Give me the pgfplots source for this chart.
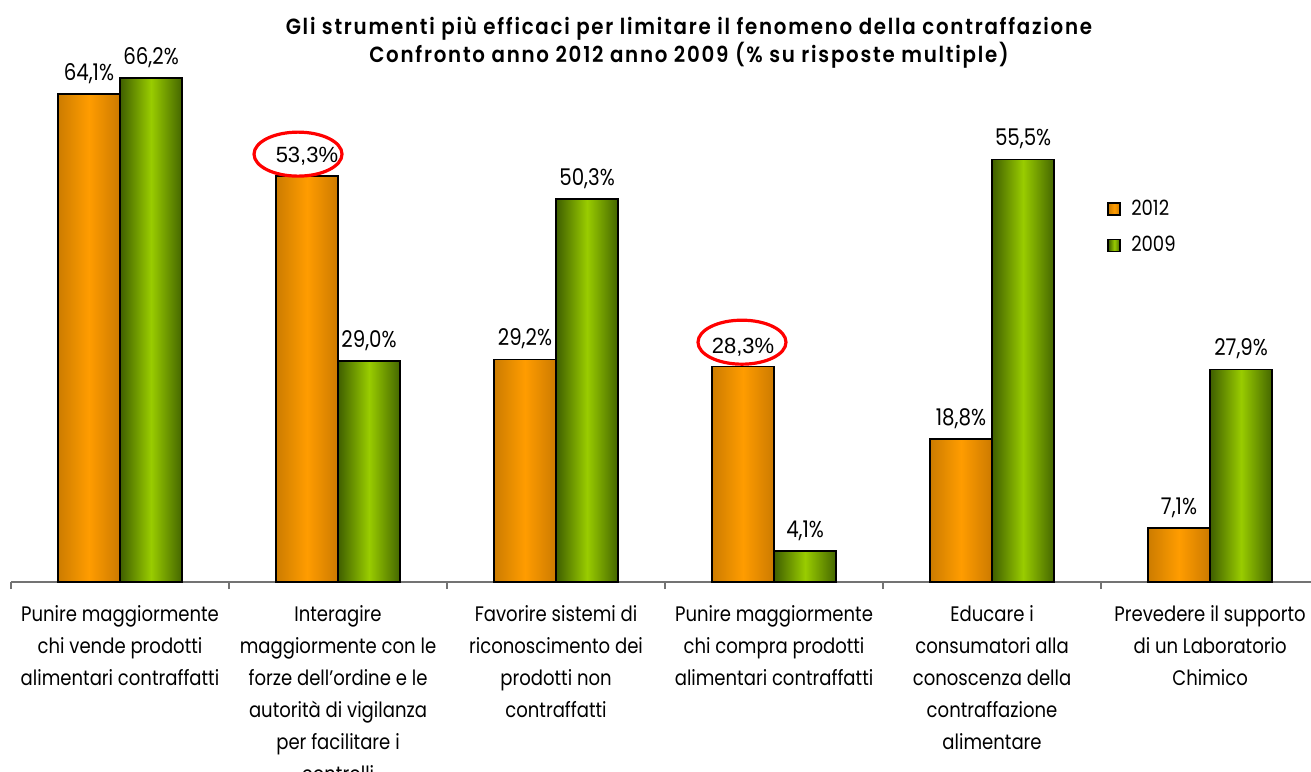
\documentclass[border=0pt]{standalone}
\usepackage{fontspec}
\setmainfont{Poppins}[FakeStretch=0.86]
\newfontfamily\titlefont{Poppins}[FakeStretch=0.9,LetterSpace=8,BoldFont={Poppins SemiBold}]
\newfontfamily\arialfont{Liberation Sans}
\usepackage{pgfplots}
\pgfplotsset{compat=1.18}
\usetikzlibrary{shapes.geometric}
\definecolor{orL}{HTML}{CC7C00}
\definecolor{orM}{HTML}{FF9C00}
\definecolor{orR}{HTML}{CC7A00}
\definecolor{grL}{HTML}{3F5F00}
\definecolor{grM}{HTML}{99CC00}
\definecolor{grR}{HTML}{446600}
\pgfplotsset{
  orbar/.style={ybar, bar width=0.285, bar shift=0pt, draw=black, line width=0.8pt,
    left color=orL, right color=orR, middle color=orM},
  grbar/.style={ybar, bar width=0.285, bar shift=0pt, draw=black, line width=0.8pt,
    left color=grL, right color=grR, middle color=grM},
  arial label/.style={nodes near coords style={font=\arialfont\fontsize{11}{12}\selectfont}},
}
\begin{document}
\begin{tikzpicture}
\begin{axis}[
  scale only axis,
  width=650pt, height=285.5pt,
  xmin=-0.5, xmax=5.463,
  ymin=0, ymax=75,
  clip=false,
  axis y line=none,
  axis x line*=bottom,
  x axis line style={-, draw=gray!90!black, line width=0.8pt},
  xtick={0,1,2,3,4,5},
  major tick length=0pt,
  minor xtick={-0.5,0.5,1.5,2.5,3.5,4.5},
  minor tick length=3.5pt,
  xtick align=outside,
  minor tick style={draw=gray!90!black, line width=0.8pt},
  xticklabels={
    {Punire maggiormente\\chi vende prodotti\\alimentari contraffatti},
    {Interagire\\maggiormente con le\\forze dell'ordine e le\\autorità di vigilanza\\per facilitare i\\controlli},
    {Favorire sistemi di\\riconoscimento dei\\prodotti non\\contraffatti},
    {Punire maggiormente\\chi compra prodotti\\alimentari contraffatti},
    {Educare i\\consumatori alla\\conoscenza della\\contraffazione\\alimentare},
    {Prevedere il supporto\\di un Laboratorio\\Chimico}},
  xticklabel style={align=center, font=\fontsize{10.5}{16}\selectfont, anchor=north, yshift=-8pt},
  /pgf/number format/assume math mode=true,
  nodes near coords={\pgfmathprintnumber[fixed, fixed zerofill, precision=1, use comma]{\pgfplotspointmeta}\%},
  nodes near coords style={font=\fontsize{11.5}{12}\selectfont, anchor=south, yshift=1.5pt},
  legend style={at={(0.8385,0.684)}, anchor=north west, draw=none, fill=none,
    font=\fontsize{10.5}{12}\selectfont, row sep=5pt,
    nodes={inner xsep=5pt}},
  legend cell align=left,
  legend image code/.code={\draw[#1, draw=black, line width=0.9pt] (0pt,-3pt) rectangle (6pt,3pt);},
  title={Gli strumenti più efficaci per limitare il fenomeno della contraffazione\\Confronto anno 2012 anno 2009 (\% su risposte multiple)},
  title style={at={(0.5215,0.924)}, anchor=center, align=center,
    font=\titlefont\bfseries\fontsize{11}{14}\selectfont},
]
% group 0
\addplot[orbar] coordinates {(-0.1425,64.1)};
\addlegendentry{2012}
\addplot[grbar] coordinates {(0.1425,66.2)};
\addlegendentry{2009}
% group 1
\addplot[orbar, forget plot, arial label] coordinates {(0.8575,53.3)};
\addplot[grbar, forget plot] coordinates {(1.1425,29.0)};
% group 2
\addplot[orbar, forget plot] coordinates {(1.8575,29.2)};
\addplot[grbar, forget plot] coordinates {(2.1425,50.3)};
% group 3
\addplot[orbar, forget plot, arial label] coordinates {(2.8575,28.3)};
\addplot[grbar, forget plot] coordinates {(3.1425,4.1)};
% group 4
\addplot[orbar, forget plot] coordinates {(3.8575,18.8)};
\addplot[grbar, forget plot] coordinates {(4.1425,55.5)};
% group 5
\addplot[orbar, forget plot] coordinates {(4.8575,7.1)};
\addplot[grbar, forget plot] coordinates {(5.1425,27.9)};
% red highlight ellipses
\addplot[draw=none, mark=none, forget plot,
  nodes near coords={},
  every node near coord/.style={draw=red, ellipse, line width=1.6pt, minimum width=44pt, minimum height=22pt, anchor=center, inner sep=0pt}]
  coordinates {(0.8165,56.2) (2.853,31.5)};
\end{axis}
\pgfresetboundingbox
\path[use as bounding box] (-5.5pt,-94.5pt) rectangle (650pt,291pt);
\end{tikzpicture}
\end{document}
